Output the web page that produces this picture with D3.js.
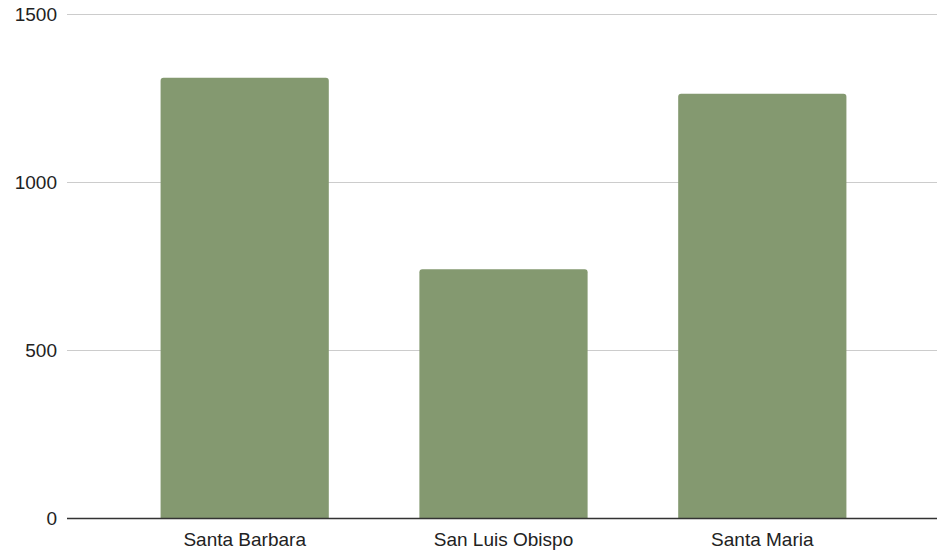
<!DOCTYPE html>
<html>
<head>
<meta charset="utf-8">
<script src="https://cdn.jsdelivr.net/npm/d3@7"></script>
<style>
  html, body { margin: 0; padding: 0; background: #fff; }
  svg { display: block; font-family: "Liberation Sans", Arial, sans-serif; }
</style>
</head>
<body>
<svg id="chart" width="937" height="551"></svg>
<script>
const categories = ["Santa Barbara", "San Luis Obispo", "Santa Maria"];
const values = [1310, 740, 1263];
const yTicks = [0, 500, 1000, 1500];

const W = 937, H = 551;
const gridLeft = 67, gridRight = 937;
const plotTop = 14, plotBottom = 518;

const svg = d3.select("#chart");

const x = d3.scaleBand()
  .domain(categories)
  .range([70, 937])
  .paddingInner(0.35)
  .paddingOuter(0.35);

const y = d3.scaleLinear()
  .domain([0, 1500])
  .range([plotBottom, plotTop]);

// horizontal gridlines
svg.append("g")
  .selectAll("line")
  .data(yTicks.filter(d => d !== 0))
  .join("line")
  .attr("x1", gridLeft)
  .attr("x2", gridRight)
  .attr("y1", d => Math.round(y(d)) + 0.5)
  .attr("y2", d => Math.round(y(d)) + 0.5)
  .attr("stroke", "#cccccc")
  .attr("stroke-width", 1);

// y tick labels
svg.append("g")
  .selectAll("text")
  .data(yTicks)
  .join("text")
  .attr("x", 57)
  .attr("y", d => y(d))
  .attr("dy", "0.36em")
  .attr("text-anchor", "end")
  .attr("font-size", 19)
  .attr("fill", "#222")
  .text(d => d);

// bars with rounded top corners
const r = 3;
svg.append("g")
  .selectAll("path")
  .data(categories.map((c, i) => ({ c, v: values[i] })))
  .join("path")
  .attr("fill", "#849970")
  .attr("d", d => {
    const x0 = x(d.c), x1 = x0 + x.bandwidth();
    const yt = y(d.v), yb = y(0);
    return `M${x0},${yb}V${yt + r}Q${x0},${yt} ${x0 + r},${yt}H${x1 - r}Q${x1},${yt} ${x1},${yt + r}V${yb}Z`;
  });

// baseline
svg.append("line")
  .attr("x1", gridLeft)
  .attr("x2", gridRight)
  .attr("y1", y(0) + 0.5)
  .attr("y2", y(0) + 0.5)
  .attr("stroke", "#333")
  .attr("stroke-width", 1.3);

// category labels
svg.append("g")
  .selectAll("text")
  .data(categories)
  .join("text")
  .attr("x", d => x(d) + x.bandwidth() / 2)
  .attr("y", 546)
  .attr("text-anchor", "middle")
  .attr("font-size", 19)
  .attr("fill", "#222")
  .text(d => d);
</script>
</body>
</html>
